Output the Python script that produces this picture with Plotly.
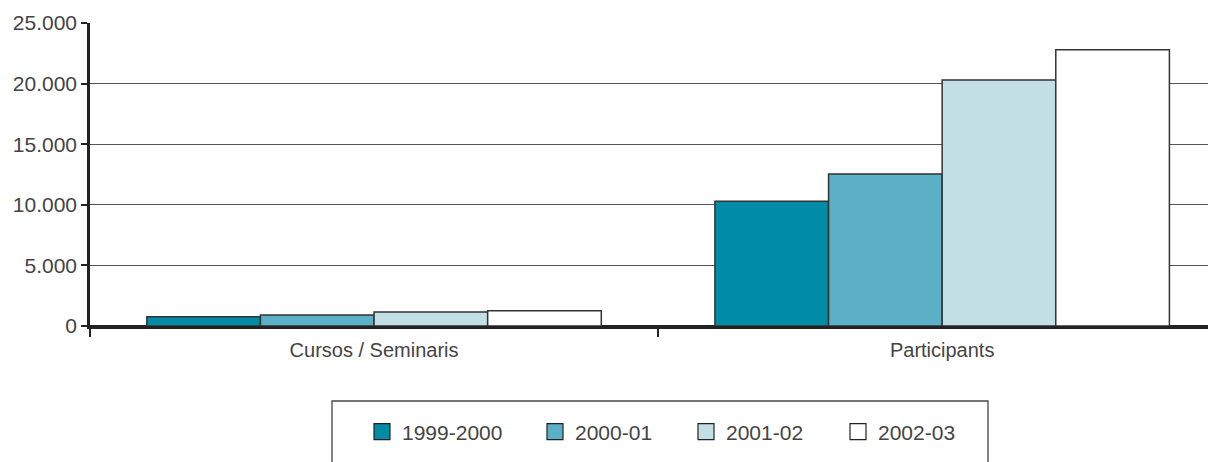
import plotly.graph_objects as go

categories = ["Cursos / Seminaris", "Participants"]
series_names = ["1999-2000", "2000-01", "2001-02", "2002-03"]
values_1999_2000 = [760, 10300]
values_2000_01 = [910, 12550]
values_2001_02 = [1160, 20300]
values_2002_03 = [1250, 22800]
y_tickvals = [0, 5000, 10000, 15000, 20000, 25000]
y_ticktext = ["0", "5.000", "10.000", "15.000", "20.000", "25.000"]

series_values = [values_1999_2000, values_2000_01, values_2001_02, values_2002_03]
colors = ["#008ba7", "#5bafc7", "#c2dfe6", "#ffffff"]
FONT = "Liberation Sans, Arial, sans-serif"
TXT = "#444444"

# page offset of the figure (browser body margin)
OFF = 8
W, H = 1216 - OFF, 462 - OFF

fig = go.Figure()
for name, vals, col in zip(series_names, series_values, colors):
    fig.add_trace(go.Bar(
        x=categories, y=vals, name=name, showlegend=False,
        marker=dict(color=col, line=dict(color="#333333", width=1.5)),
    ))

legend_names = ["legend", "legend2", "legend3", "legend4"]
legend_swatch_x = [390, 563, 714, 866]  # page x of swatch centres
for name, col, lg in zip(series_names, colors, legend_names):
    fig.add_trace(go.Scatter(
        x=[None], y=[None], mode="markers", name=name, legend=lg,
        marker=dict(symbol="square", size=16, color=col,
                    line=dict(color="#222222", width=1.2)),
    ))

fig.add_shape(type="rect", xref="paper", yref="paper",
              x0=(332 - 90) / 1126, x1=(988 - 90) / 1126,
              y0=(326 - 401) / 303, y1=(326 - 480) / 303,
              line=dict(color="#444444", width=1.3), fillcolor="rgba(0,0,0,0)",
              layer="above")

legend_layout = {}
for lg, sx in zip(legend_names, legend_swatch_x):
    legend_layout[lg] = dict(
        orientation="h", xref="container", yref="container",
        x=(sx - OFF - 28) / W, xanchor="left",
        y=1 - (432 - OFF) / H, yanchor="middle",
        itemsizing="trace", bgcolor="rgba(0,0,0,0)",
        font=dict(family=FONT, size=21, color=TXT), itemclick=False,
    )

fig.update_layout(
    width=W, height=H,
    margin=dict(l=90 - OFF, r=0, t=23 - OFF, b=H - (326 - OFF)),
    paper_bgcolor="white", plot_bgcolor="white",
    barmode="group", bargap=0.2, bargroupgap=0,
    font=dict(family=FONT, size=21, color=TXT),
    showlegend=True,
    xaxis=dict(range=[-0.5, 1.482], showgrid=False, zeroline=False,
               showline=True, linecolor="#222222", linewidth=2.5,
               ticks="outside", tickson="boundaries", ticklen=8, tickwidth=2,
               tickcolor="#222222", fixedrange=True, ticklabelstandoff=4,
               tickfont=dict(family=FONT, size=20, color=TXT)),
    yaxis=dict(range=[0, 25000], tickvals=y_tickvals, ticktext=y_ticktext,
               showgrid=True, gridcolor="#555555", gridwidth=1,
               zeroline=True, zerolinecolor="#222222", zerolinewidth=2.5,
               showline=True, linecolor="#222222", linewidth=2.5,
               ticks="outside", ticklen=6, tickwidth=2, tickcolor="#222222",
               fixedrange=True,
               tickfont=dict(family=FONT, size=21, color=TXT)),
    **legend_layout,
)

fig.write_html("out.html")
